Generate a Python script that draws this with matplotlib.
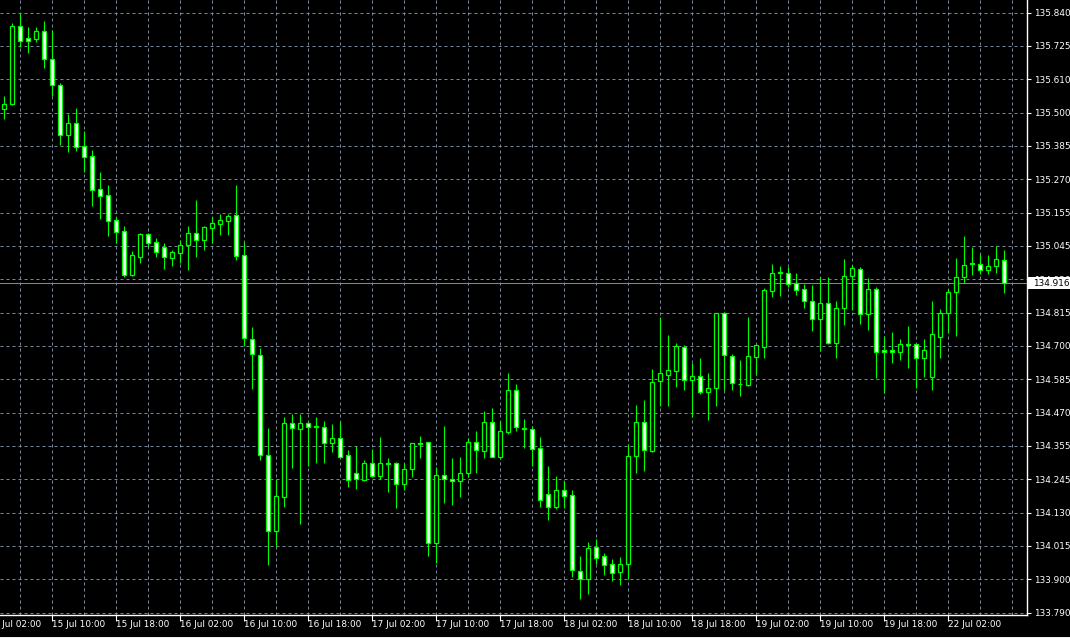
import numpy as np
import matplotlib
matplotlib.use("Agg")
import matplotlib.pyplot as plt
import matplotlib.transforms as mtransforms
from matplotlib.patches import Rectangle

# hourly bars, 15 Jul 04:00 .. 22 Jul 09:00 (weekend skipped)
opens = [135.510, 135.527, 135.793, 135.752, 135.749, 135.776, 135.680, 135.592, 135.421, 135.462,
         135.383, 135.349, 135.236, 135.216, 135.130, 135.093, 134.944, 135.006, 135.083, 135.055,
         135.038, 135.003, 135.020, 135.045, 135.086, 135.062, 135.105, 135.119, 135.129, 135.147,
         135.011, 134.724, 134.669, 134.327, 134.070, 134.186, 134.439, 134.418, 134.437, 134.428,
         134.425, 134.370, 134.385, 134.327, 134.266, 134.243, 134.300, 134.258, 134.301, 134.300,
         134.228, 134.280, 134.368, 134.372, 134.027, 134.259, 134.245, 134.239, 134.266, 134.372,
         134.343, 134.443, 134.323, 134.408, 134.549, 134.422, 134.416, 134.351, 134.194, 134.150,
         134.208, 134.191, 133.934, 133.905, 134.013, 133.982, 133.955, 133.930, 133.957, 134.326,
         134.440, 134.343, 134.580, 134.603, 134.617, 134.697, 134.584, 134.597, 134.543, 134.556,
         134.813, 134.666, 134.572, 134.569, 134.664, 134.698, 134.890, 134.953, 134.949, 134.915,
         134.895, 134.854, 134.792, 134.847, 134.712, 134.830, 134.939, 134.963, 134.809, 134.895,
         134.686, 134.686, 134.679, 134.709, 134.707, 134.659, 134.596, 134.733, 134.813, 134.886,
         134.936, 134.983, 134.981, 134.960, 134.973, 134.994]
highs = [135.555, 135.804, 135.838, 135.792, 135.790, 135.811, 135.780, 135.598, 135.493, 135.514,
         135.434, 135.371, 135.295, 135.251, 135.143, 135.111, 135.025, 135.088, 135.086, 135.069,
         135.052, 135.029, 135.063, 135.111, 135.200, 135.111, 135.143, 135.153, 135.152, 135.251,
         135.057, 134.765, 134.693, 134.421, 134.245, 134.457, 134.468, 134.468, 134.442, 134.459,
         134.445, 134.433, 134.442, 134.345, 134.361, 134.311, 134.348, 134.390, 134.318, 134.305,
         134.300, 134.368, 134.393, 134.372, 134.288, 134.427, 134.318, 134.323, 134.386, 134.409,
         134.479, 134.489, 134.444, 134.608, 134.571, 134.451, 134.428, 134.390, 134.291, 134.257,
         134.240, 134.209, 133.983, 134.031, 134.041, 133.993, 133.973, 133.980, 134.365, 134.499,
         134.516, 134.622, 134.799, 134.737, 134.710, 134.703, 134.642, 134.660, 134.608, 134.813,
         134.818, 134.674, 134.653, 134.799, 134.703, 134.898, 134.981, 134.974, 134.972, 134.950,
         134.913, 134.908, 134.936, 134.936, 134.855, 134.998, 134.977, 134.972, 134.932, 134.903,
         134.735, 134.749, 134.725, 134.769, 134.707, 134.725, 134.855, 134.827, 134.895, 135.002,
         135.077, 135.040, 135.015, 135.012, 135.043, 135.029]
lows = [135.477, 135.526, 135.723, 135.701, 135.741, 135.650, 135.556, 135.389, 135.365, 135.368,
        135.296, 135.179, 135.135, 135.078, 135.052, 134.938, 134.941, 134.985, 135.040, 135.006,
        134.965, 134.974, 134.985, 134.960, 135.006, 135.029, 135.052, 135.081, 135.080, 134.995,
        134.702, 134.554, 134.311, 133.953, 134.017, 134.152, 134.285, 134.093, 134.292, 134.302,
        134.302, 134.340, 134.323, 134.220, 134.212, 134.239, 134.254, 134.247, 134.203, 134.148,
        134.209, 134.254, 134.319, 133.984, 133.960, 134.163, 134.159, 134.186, 134.252, 134.266,
        134.319, 134.323, 134.314, 134.402, 134.411, 134.353, 134.292, 134.152, 134.107, 134.143,
        134.148, 133.913, 133.836, 133.854, 133.956, 133.918, 133.898, 133.884, 133.905, 134.268,
        134.274, 134.340, 134.497, 134.497, 134.562, 134.550, 134.459, 134.537, 134.448, 134.497,
        134.550, 134.550, 134.531, 134.564, 134.601, 134.661, 134.869, 134.873, 134.903, 134.876,
        134.832, 134.753, 134.683, 134.707, 134.661, 134.773, 134.824, 134.776, 134.756, 134.593,
        134.541, 134.644, 134.653, 134.627, 134.558, 134.596, 134.550, 134.661, 134.746, 134.735,
        134.917, 134.943, 134.946, 134.946, 134.951, 134.881]
closes = [135.527, 135.793, 135.744, 135.744, 135.776, 135.680, 135.592, 135.421, 135.462, 135.382,
          135.348, 135.235, 135.214, 135.129, 135.091, 134.944, 135.011, 135.084, 135.054, 135.023,
          135.004, 135.021, 135.045, 135.086, 135.062, 135.107, 135.121, 135.131, 135.145, 135.009,
          134.727, 134.672, 134.327, 134.070, 134.187, 134.437, 134.420, 134.437, 134.425, 134.425,
          134.370, 134.385, 134.323, 134.242, 134.245, 134.300, 134.258, 134.300, 134.299, 134.228,
          134.280, 134.368, 134.366, 134.027, 134.259, 134.245, 134.239, 134.266, 134.372, 134.344,
          134.443, 134.323, 134.409, 134.549, 134.425, 134.419, 134.350, 134.174, 134.150, 134.208,
          134.189, 133.937, 133.905, 134.010, 133.978, 133.954, 133.926, 133.956, 134.324, 134.443,
          134.347, 134.577, 134.608, 134.619, 134.701, 134.584, 134.597, 134.543, 134.556, 134.813,
          134.669, 134.573, 134.570, 134.666, 134.703, 134.891, 134.949, 134.950, 134.912, 134.891,
          134.854, 134.792, 134.847, 134.712, 134.830, 134.939, 134.966, 134.809, 134.895, 134.679,
          134.679, 134.679, 134.707, 134.706, 134.659, 134.686, 134.741, 134.813, 134.884, 134.936,
          134.977, 134.981, 134.960, 134.973, 134.997, 134.916]

time_labels = ["15 Jul 02:00", "15 Jul 10:00", "15 Jul 18:00", "16 Jul 02:00", "16 Jul 10:00",
               "16 Jul 18:00", "17 Jul 02:00", "17 Jul 10:00", "17 Jul 18:00", "18 Jul 02:00",
               "18 Jul 10:00", "18 Jul 18:00", "19 Jul 02:00", "19 Jul 10:00", "19 Jul 18:00",
               "22 Jul 02:00"]
price_labels = ["135.840", "135.725", "135.610", "135.500", "135.385", "135.270", "135.155",
                "135.045", "134.930", "134.815", "134.700", "134.585", "134.470", "134.355",
                "134.245", "134.130", "134.015", "133.900", "133.790"]
bid = 134.916

GREEN = "#00ff00"
GRID = "#778899"
FS = 6.4

o = np.array(opens)
h = np.array(highs)
l = np.array(lows)
c = np.array(closes)
x = np.arange(len(o))

fig = plt.figure(figsize=(10.7, 6.38), dpi=100, facecolor="black")
ax = fig.add_axes([0, 23 / 638, 1027 / 1070, 615 / 638])
ax.set_facecolor("black")

# 8 px per bar, bar centres on pixel centres
ax.set_xlim(-3.5 / 8, (1027 - 3.5) / 8)
ax.set_ylim(133.782, 135.883)

# grid
levels = np.linspace(135.840, 133.790, len(price_labels))
for lv in levels:
    ax.axhline(lv, color=GRID, lw=0.72, ls=(0, (3, 3)), zorder=1)
for gx in np.arange(2, 128, 4):
    ax.axvline(gx, color=GRID, lw=0.72, ls=(0, (3, 3)), zorder=1)

# bid line
ax.axhline(bid, color=GRID, lw=0.72, zorder=1.5)

# candles
up = c >= o
ax.vlines(x, l, h, color=GREEN, lw=0.8, zorder=2)
ax.bar(x, np.abs(c - o), bottom=np.minimum(o, c), width=0.5,
       color=np.where(up, "black", "white"), edgecolor=GREEN, linewidth=0.9, zorder=3)

# axes look
for s in ["top", "left"]:
    ax.spines[s].set_visible(False)
for s in ["right", "bottom"]:
    ax.spines[s].set_color("white")
    ax.spines[s].set_linewidth(1.0)

ax.yaxis.tick_right()
ax.set_yticks(levels, price_labels)
ax.tick_params(axis="y", colors="white", labelsize=FS, length=3, width=0.8, pad=2)

tick_idx = -2 + 8 * np.arange(len(time_labels))
ax.set_xticks(tick_idx[tick_idx >= 0], [""] * int((tick_idx >= 0).sum()))
ax.tick_params(axis="x", colors="white", length=4, width=0.8)
xtr = mtransforms.blended_transform_factory(ax.transData, ax.transAxes)
for ti, lab in zip(tick_idx, time_labels):
    ax.text(ti, -0.016, lab, transform=xtr, color="white", fontsize=FS,
            ha="left", va="center", clip_on=False)

# current price tag
ftr = mtransforms.blended_transform_factory(fig.transFigure, ax.transData)
ax.add_patch(Rectangle((1028 / 1070, bid - 0.021), 42 / 1070, 0.042, transform=ftr,
                       facecolor="white", edgecolor="none", clip_on=False, zorder=10))
ax.text(1033 / 1070, bid, f"{bid:.3f}", transform=ftr, color="black", fontsize=FS,
        ha="left", va="center", clip_on=False, zorder=11)

fig.add_artist(Rectangle((0, 0), 1, 1.5 / 638, transform=fig.transFigure,
                         facecolor="#f0f0f0", edgecolor="none"))

fig.savefig("out.png", dpi=100, facecolor="black")
